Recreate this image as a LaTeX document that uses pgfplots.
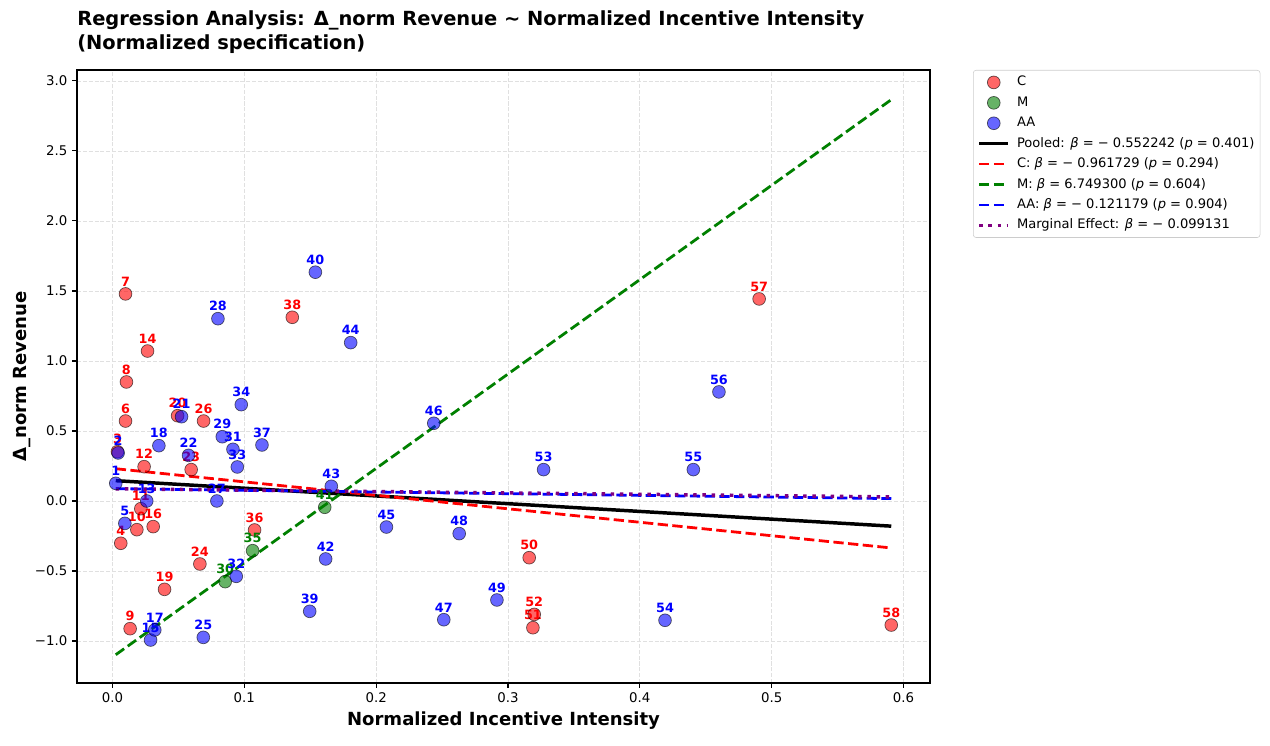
\documentclass[border=0pt]{standalone}
\usepackage{fontspec}
\setmainfont{DejaVu Sans}
\usepackage{pgfplots}
\pgfplotsset{compat=1.18}
\definecolor{mred}{RGB}{255,0,0}
\definecolor{mgreen}{RGB}{0,128,0}
\definecolor{mblue}{RGB}{0,0,255}
\definecolor{mpurple}{RGB}{128,0,128}
\begin{document}
\begin{tikzpicture}
\path[use as bounding box] (-55.44pt,-44.64pt) rectangle (858.96pt,491.76pt);
\begin{axis}[
  at={(0pt,0pt)}, anchor=south west,
  scale only axis, width=614.16pt, height=441.36pt,
  xmin=-0.0269, xmax=0.6201, ymin=-1.3, ymax=3.078,
  xtick={0,0.1,0.2,0.3,0.4,0.5,0.6},
  xticklabels={0.0,0.1,0.2,0.3,0.4,0.5,0.6},
  ytick={-1,-0.5,0,0.5,1,1.5,2,2.5,3},
  yticklabels={−1.0,−0.5,0.0,0.5,1.0,1.5,2.0,2.5,3.0},
  tick pos=left, tick align=outside, major tick length=3.4pt,
  tick style={black, line width=0.8pt},
  axis line style={black, line width=0.8pt},
  grid=major, major grid style={dash pattern=on 2.9pt off 1.3pt, black!12, line width=0.6pt},
  tick label style={font=\fontsize{9.6}{11}\selectfont},
  xlabel={Normalized Incentive Intensity},
  ylabel={Δ\_norm Revenue},
  label style={font=\bfseries\fontsize{13}{15}\selectfont},
  ylabel shift=-4pt,
  title={Regression Analysis: Δ\_norm Revenue \textasciitilde{} Normalized Incentive Intensity\\(Normalized specification)},
  title style={at={(0,1)}, anchor=south west, inner sep=0pt, yshift=6pt, align=left, font=\bfseries\fontsize{14}{16.6}\selectfont},
  legend style={at={(1.0504,1)}, anchor=north west, font=\fontsize{9.4}{11}\selectfont,
    draw=black!20, fill=white, rounded corners=2pt, inner sep=3pt, row sep=3.2pt, column sep=4pt,
    nodes={inner sep=1pt, text height=7.3pt, text depth=2.2pt}, cells={anchor=west}},
  legend image code/.code={\draw[mark repeat=2,mark phase=2,#1] plot coordinates {(0pt,0pt) (10.5pt,0pt) (21pt,0pt)};},
  clip=false,
]
% ---- C
\addplot[only marks, mark=*, mark size=4.6pt,
  mark options={fill=mred, draw=black, opacity=0.6, line width=0.5pt},
  nodes near coords, point meta=explicit symbolic,
  nodes near coords style={opacity=1, text opacity=1, text=mred, font=\bfseries\fontsize{9.2}{10}\selectfont, anchor=south, inner sep=0pt, yshift=5.3pt}]
  table[meta=lab] {
x y lab
0.0038 0.352 3
0.0063 -0.302 4
0.0099 0.571 6
0.0099 1.479 7
0.0106 0.850 8
0.0134 -0.912 9
0.0185 -0.205 10
0.0215 -0.055 11
0.0240 0.245 12
0.0266 1.071 14
0.0309 -0.183 16
0.0395 -0.631 19
0.0494 0.609 20
0.0597 0.224 23
0.0663 -0.450 24
0.0691 0.571 26
0.1078 -0.207 36
0.1364 1.312 38
0.3161 -0.405 50
0.3189 -0.905 51
0.3199 -0.810 52
0.4905 1.443 57
0.5907 -0.886 58
};
\addlegendentry{C}
% ---- M
\addplot[only marks, mark=*, mark size=4.6pt,
  mark options={fill=mgreen, draw=black, opacity=0.6, line width=0.5pt},
  nodes near coords, point meta=explicit symbolic,
  nodes near coords style={opacity=1, text opacity=1, text=mgreen, font=\bfseries\fontsize{9.2}{10}\selectfont, anchor=south, inner sep=0pt, yshift=5.3pt}]
  table[meta=lab] {
x y lab
0.0855 -0.576 30
0.1063 -0.355 35
0.1610 -0.045 41
};
\addlegendentry{M}
% ---- AA
\addplot[only marks, mark=*, mark size=4.6pt,
  mark options={fill=mblue, draw=black, opacity=0.6, line width=0.5pt},
  nodes near coords, point meta=explicit symbolic,
  nodes near coords style={opacity=1, text opacity=1, text=mblue, font=\bfseries\fontsize{9.2}{10}\selectfont, anchor=south, inner sep=0pt, yshift=5.3pt}]
  table[meta=lab] {
x y lab
0.0025 0.126 1
0.0043 0.343 2
0.0094 -0.160 5
0.0260 0.000 13
0.0289 -0.993 15
0.0321 -0.921 17
0.0352 0.395 18
0.0524 0.602 21
0.0577 0.326 22
0.0689 -0.974 25
0.0792 0.000 27
0.0800 1.302 28
0.0833 0.459 29
0.0914 0.369 31
0.0939 -0.538 32
0.0947 0.243 33
0.0977 0.688 34
0.1134 0.400 37
0.1496 -0.788 39
0.1539 1.634 40
0.1617 -0.414 42
0.1660 0.105 43
0.1807 1.131 44
0.2078 -0.186 45
0.2437 0.555 46
0.2513 -0.848 47
0.2630 -0.233 48
0.2916 -0.707 49
0.3270 0.224 53
0.4191 -0.852 54
0.4406 0.224 55
0.4600 0.779 56
};
\addlegendentry{AA}
% ---- regression lines
\addplot[black, line width=2.5pt, mark=none] coordinates {(0.0025,0.1450) (0.5907,-0.1798)};
\addlegendentry{Pooled: \textit{β} = − 0.552242 (\textit{p} = 0.401)}
\addplot[mred, line width=2pt, dash pattern=on 7.4pt off 3.2pt, mark=none] coordinates {(0.0025,0.2303) (0.5907,-0.3354)};
\addlegendentry{C: \textit{β} = − 0.961729 (\textit{p} = 0.294)}
\addplot[mgreen, line width=2pt, dash pattern=on 7.4pt off 3.2pt, mark=none] coordinates {(0.0025,-1.098) (0.5907,2.866)};
\addlegendentry{M: \textit{β} = 6.749300 (\textit{p} = 0.604)}
\addplot[mblue, line width=2pt, dash pattern=on 7.4pt off 3.2pt, mark=none] coordinates {(0.0025,0.0880) (0.5907,0.0170)};
\addlegendentry{AA: \textit{β} = − 0.121179 (\textit{p} = 0.904)}
\addplot[mpurple, line width=2.5pt, dash pattern=on 2.5pt off 4.1pt, mark=none] coordinates {(0.0025,0.0870) (0.5907,0.0290)};
\addlegendentry{Marginal Effect: \textit{β} = − 0.099131}
\end{axis}
\end{tikzpicture}
\end{document}
